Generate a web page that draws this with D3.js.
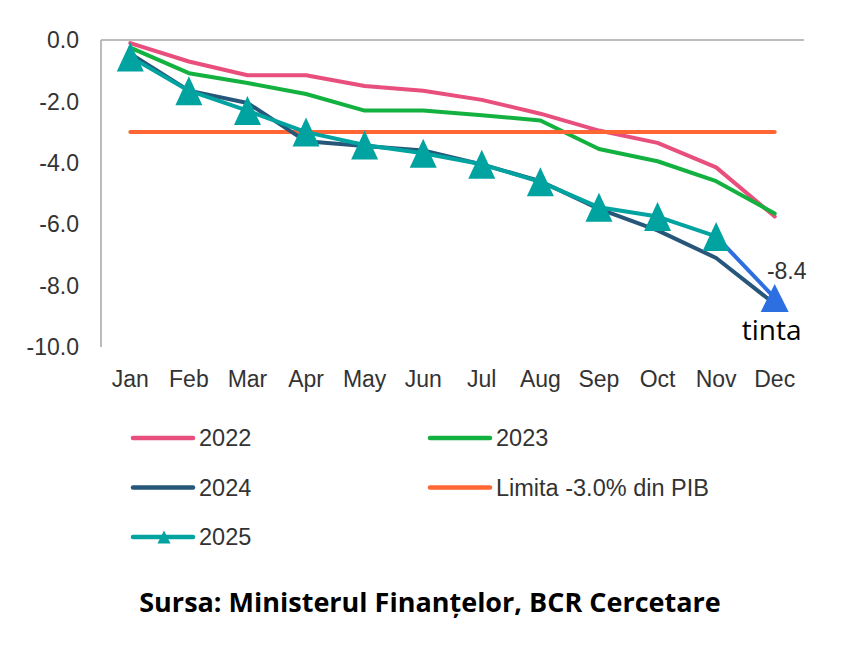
<!DOCTYPE html>
<meta charset="utf-8">
<script src="https://d3js.org/d3.v7.min.js"></script>
<style>
  body { margin: 0; background: #fff; }
</style>
<div id="chart"></div>
<script>

    // data (% of GDP, cumulative)
    var months = ["Jan", "Feb", "Mar", "Apr", "May", "Jun", "Jul", "Aug", "Sep", "Oct", "Nov", "Dec"];
    var s2022 = [-0.1, -0.7, -1.15, -1.15, -1.5, -1.65, -1.95, -2.4, -2.95, -3.35, -4.15, -5.75];
    var s2023 = [-0.25, -1.08, -1.4, -1.76, -2.3, -2.3, -2.45, -2.62, -3.55, -3.95, -4.6, -5.65];
    var s2024 = [-0.45, -1.65, -2.05, -3.3, -3.45, -3.6, -4.05, -4.6, -5.5, -6.2, -7.1, -8.6];
    var s2025 = [-0.55, -1.65, -2.3, -3.0, -3.42, -3.69, -4.05, -4.62, -5.45, -5.75, -6.4];
    var limit = -3.0;
    var target = -8.4;
    var yTicks = [0, -2, -4, -6, -8, -10];

    var width = 852, height = 668;
    var plot = { left: 101, right: 804, top: 40, bottom: 347 };

    var fmt = function (v) { return d3.format(".1f")(v).replace("\u2212", "-"); };

    var svg = d3.select("#chart").append("svg")
        .attr("width", width)
        .attr("height", height)
        .style("font-family", "Liberation Sans, Arial, sans-serif");

    var x = d3.scalePoint()
        .domain(months)
        .range([plot.left, plot.right])
        .padding(0.5);

    var y = d3.scaleLinear()
        .domain([-10, 0])
        .range([plot.bottom, plot.top]);

    // frame: value axis on the left, category axis at 0 on top
    svg.append("line")
        .attr("x1", plot.left).attr("x2", plot.left)
        .attr("y1", plot.top).attr("y2", plot.bottom)
        .attr("stroke", "#a6a6a6").attr("stroke-width", 1.5);
    svg.append("line")
        .attr("x1", plot.left).attr("x2", plot.right)
        .attr("y1", y(0)).attr("y2", y(0))
        .attr("stroke", "#a6a6a6").attr("stroke-width", 1.5);

    // tick labels
    svg.selectAll(".ylab").data(yTicks).enter().append("text")
        .attr("x", 79)
        .attr("y", function (d) { return y(d); })
        .attr("dy", "0.36em")
        .attr("text-anchor", "end")
        .attr("font-size", 23)
        .attr("fill", "#333")
        .text(fmt);

    svg.selectAll(".xlab").data(months).enter().append("text")
        .attr("x", function (d) { return x(d); })
        .attr("y", 387)
        .attr("text-anchor", "middle")
        .attr("font-size", 23)
        .attr("fill", "#333")
        .text(function (d) { return d; });

    var line = d3.line()
        .x(function (d, i) { return x(months[i]); })
        .y(function (d) { return y(d); });

    function drawSeries(data, color) {
        svg.append("path")
            .datum(data)
            .attr("fill", "none")
            .attr("stroke", color)
            .attr("stroke-width", 4)
            .attr("stroke-linejoin", "round")
            .attr("stroke-linecap", "round")
            .attr("d", line);
    }

    drawSeries(s2022, "#e84f7c");
    drawSeries(s2023, "#13b13f");
    drawSeries(months.map(function () { return limit; }), "#ff6633");

    // target segment from last 2025 point to Dec
    svg.append("line")
        .attr("x1", x(months[s2025.length - 1])).attr("y1", y(s2025[s2025.length - 1]))
        .attr("x2", x("Dec")).attr("y2", y(target))
        .attr("stroke", "#2d6fe0").attr("stroke-width", 4);

    drawSeries(s2024, "#26577a");
    drawSeries(s2025, "#00a3a0");

    // triangle with its box centred on the point
    function triangle(w, h) {
        return "M0," + (-h / 2) + "L" + (w / 2) + "," + (h / 2) + "L" + (-w / 2) + "," + (h / 2) + "Z";
    }

    svg.selectAll(".m25").data(s2025).enter().append("path")
        .attr("d", triangle(27, 29))
        .attr("fill", "#00a3a0")
        .attr("transform", function (d, i) { return "translate(" + x(months[i]) + "," + y(d) + ")"; });

    svg.append("path")
        .attr("d", triangle(28, 28))
        .attr("fill", "#2d6fe0")
        .attr("transform", "translate(" + x("Dec") + "," + y(target) + ")");

    svg.append("text")
        .attr("x", x("Dec") + 12)
        .attr("y", 279)
        .attr("text-anchor", "middle")
        .attr("font-size", 23)
        .attr("fill", "#333")
        .text(fmt(target));

    svg.append("text")
        .attr("x", x("Dec") - 3)
        .attr("y", 340)
        .attr("text-anchor", "middle")
        .attr("font-size", 28)
        .attr("font-family", "Open Sans, sans-serif")
        .attr("fill", "#000")
        .text("tinta");

    // legend
    var legend = [
        { name: "2022", color: "#e84f7c", col: 0, row: 0 },
        { name: "2023", color: "#13b13f", col: 1, row: 0 },
        { name: "2024", color: "#26577a", col: 0, row: 1 },
        { name: "Limita -3.0% din PIB", color: "#ff6633", col: 1, row: 1 },
        { name: "2025", color: "#00a3a0", col: 0, row: 2, marker: true }
    ];

    var lg = svg.selectAll(".lg").data(legend).enter().append("g")
        .attr("transform", function (d) {
            return "translate(" + (d.col ? 430 : 133) + "," + (438 + d.row * 49.5) + ")";
        });

    lg.append("line")
        .attr("x1", 0).attr("x2", 60)
        .attr("stroke", function (d) { return d.color; })
        .attr("stroke-width", 4.5)
        .attr("stroke-linecap", "round");

    lg.filter(function (d) { return d.marker; }).append("path")
        .attr("d", triangle(13, 13))
        .attr("transform", "translate(31,0)")
        .attr("fill", function (d) { return d.color; });

    lg.append("text")
        .attr("x", 66)
        .attr("dy", "0.36em")
        .attr("font-size", 23.5)
        .attr("fill", "#333")
        .text(function (d) { return d.name; });

    svg.append("text")
        .attr("x", 430)
        .attr("y", 612)
        .attr("text-anchor", "middle")
        .attr("font-size", 27)
        .attr("font-weight", "bold")
        .attr("font-family", "Open Sans, sans-serif")
        .attr("fill", "#000")
        .text("Sursa: Ministerul Finanțelor, BCR Cercetare");

</script>
